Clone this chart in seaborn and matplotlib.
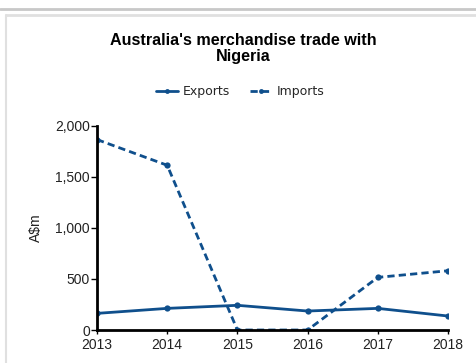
import matplotlib
matplotlib.use("Agg")
import matplotlib.pyplot as plt
from matplotlib.lines import Line2D
import seaborn as sns
import pandas as pd

years = [2013, 2014, 2015, 2016, 2017, 2018]
exports = [163, 212, 242, 186, 212, 137]
imports = [1867, 1615, 0, 0, 516, 581]
y_ticks = [0, 500, 1000, 1500, 2000]
y_tick_labels = ["0", "500", "1,000", "1,500", "2,000"]

navy = "#0f4f8c"
dash = (2.6, 1.5)

sns.set_theme(style="white")
plt.rcParams["font.family"] = ["DejaVu Sans"]

df = pd.DataFrame({
    "Year": years * 2,
    "Value": exports + imports,
    "Series": ["Exports"] * len(years) + ["Imports"] * len(years),
})

fig = plt.figure(figsize=(4.77, 3.63), dpi=100)
fig.patch.set_facecolor("white")

# page chrome: grey rules and the panel edge
fig.add_artist(Line2D([0, 1], [1 - 9 / 363, 1 - 9 / 363], color="#c8c8c8", lw=2.0))
fig.add_artist(Line2D([6 / 477, 1], [1 - 15 / 363, 1 - 15 / 363], color="#e0e0e0", lw=2.0))
fig.add_artist(Line2D([6.5 / 477, 6.5 / 477], [0, 1 - 15 / 363], color="#e0e0e0", lw=1.5))

ax = fig.add_axes([97 / 477, 1 - 330 / 363, (448 - 97) / 477, (330 - 126) / 363])
sns.lineplot(
    data=df, x="Year", y="Value", style="Series", ax=ax,
    color=navy, linewidth=2.0, marker="o", markersize=4.5, markeredgewidth=0,
    dashes={"Exports": "", "Imports": dash}, legend=False,
)

ax.set_xlim(2013, 2018)
ax.set_ylim(0, 2000)
ax.set_xticks(years)
ax.set_xticklabels([str(y) for y in years])
ax.set_yticks(y_ticks)
ax.set_yticklabels(y_tick_labels)
for lab in ax.get_xticklabels() + ax.get_yticklabels():
    lab.set_family("Liberation Sans")
    lab.set_fontsize(10)
    lab.set_color("#222222")
ax.tick_params(axis="y", length=4, width=1, color="black", pad=1, left=True)
ax.tick_params(axis="x", length=3, width=1, color="black", pad=3, bottom=True)
ax.set_xlabel("")
ax.set_ylabel("A$m", family="Liberation Sans", fontsize=10, color="#222222", labelpad=9)
for side in ["top", "right"]:
    ax.spines[side].set_visible(False)
for side in ["left", "bottom"]:
    ax.spines[side].set_color("black")
    ax.spines[side].set_linewidth(2)
ax.set_facecolor("white")
ax.grid(False)

fig.text(0.51, 1 - 48.5 / 363, "Australia's merchandise trade with\nNigeria",
         ha="center", va="center", fontsize=11.6, fontweight="bold",
         family="Liberation Sans", color="black", linespacing=1.15)

handles = [
    Line2D([], [], color=navy, lw=2.0, marker="o", markersize=3.5, markeredgewidth=0),
    Line2D([], [], color=navy, lw=2.0, marker="o", markersize=3.5, markeredgewidth=0,
           dashes=dash),
]
fig.legend(handles, ["Exports", "Imports"], loc="center", bbox_to_anchor=(0.503, 1 - 92 / 363),
           ncol=2, frameon=False, fontsize=9, handlelength=1.8, handletextpad=0.35,
           columnspacing=1.6)

fig.savefig("out.png", dpi=100, facecolor="white")
